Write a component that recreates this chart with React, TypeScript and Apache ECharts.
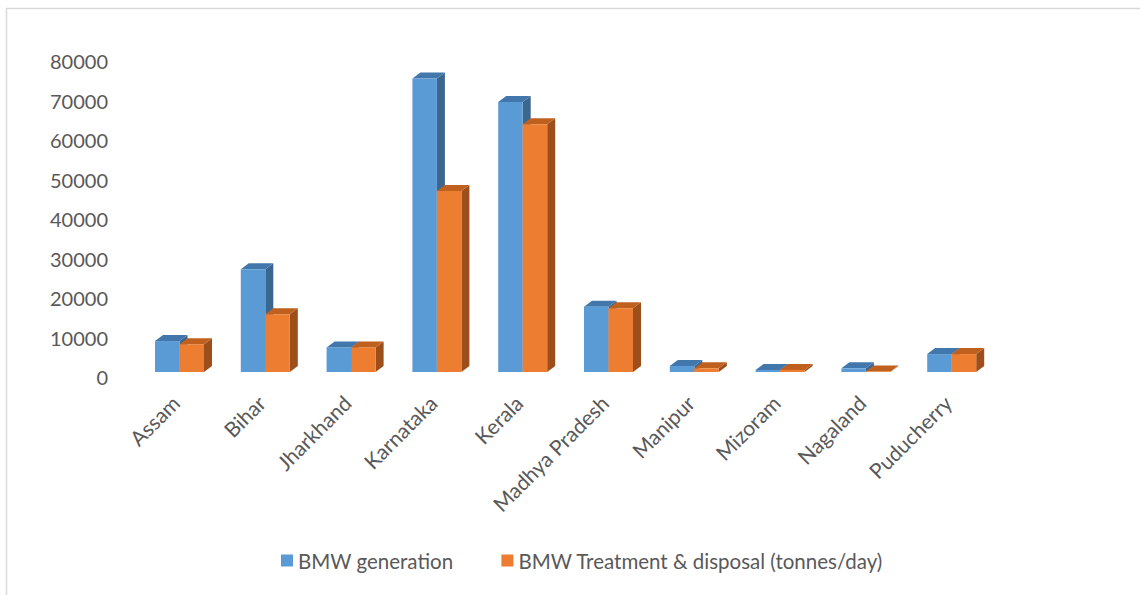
import React, { useEffect, useRef } from "react";
import * as echarts from "echarts";

const categories = [
  "Assam",
  "Bihar",
  "Jharkhand",
  "Karnataka",
  "Kerala",
  "Madhya Pradesh",
  "Manipur",
  "Mizoram",
  "Nagaland",
  "Puducherry",
];
const generation = [9100, 27300, 7500, 75600, 69600, 17800, 2800, 1800, 2200, 5800];
const treatment = [8300, 15900, 7500, 47100, 64000, 17400, 2200, 1800, 1400, 5800];
const seriesNames = ["BMW generation", "BMW Treatment & disposal (tonnes/day)"];
const yTicks = { min: 0, max: 80000, interval: 10000 };

const palette = [
  { front: "#5B9BD5", top: "#4277AC", side: "#3A6690" },
  { front: "#ED7D31", top: "#C0601F", side: "#9C4E1B" },
];

const FONT = "Lato, 'Liberation Sans', sans-serif";
const TEXT = "#595959";
const BAR_SHIFT = 8;

function makeRender(idx: number) {
  const c = palette[idx];
  return (params: any, api: any) => {
    const ci = api.value(0);
    const v = api.value(1);
    const pTop = api.coord([ci, v]);
    const p0 = api.coord([ci, 0]);
    const band = api.size([1, 0])[0];
    const faceW = band * 0.2856;
    const dx = 8;
    const dy = 6;
    const lift = 5;
    const cx = pTop[0] + BAR_SHIFT;
    const xl = cx - (2 * faceW + dx) / 2 + idx * faceW;
    const xr = xl + faceW;
    const yb = p0[1] - lift;
    const yt = Math.min(pTop[1], yb);
    return {
      type: "group",
      children: [
        {
          type: "polygon",
          shape: { points: [[xr, yb], [xr + dx, yb - dy], [xr + dx, yt - dy], [xr, yt]] },
          style: { fill: c.side },
        },
        {
          type: "polygon",
          shape: { points: [[xl, yt], [xl + dx, yt - dy], [xr + dx, yt - dy], [xr, yt]] },
          style: { fill: c.top },
        },
        {
          type: "rect",
          shape: { x: xl, y: yt, width: faceW, height: Math.max(yb - yt, 0) },
          style: { fill: c.front },
        },
      ],
    };
  };
}

export default function App() {
  const ref = useRef<HTMLDivElement>(null);
  useEffect(() => {
    if (!ref.current) return;
    const chart = echarts.init(ref.current, undefined, { renderer: "svg" });
    chart.setOption({
      animation: false,
      backgroundColor: "#ffffff",
      graphic: [
        {
          type: "rect",
          shape: { x: 6.5, y: 8.5, width: 1400, height: 800 },
          style: { fill: "none", stroke: "#d9d9d9", lineWidth: 1.5 },
          silent: true,
        },
      ],
      grid: { left: 132.6, right: 149.4, top: 61, bottom: 218, containLabel: false },
      legend: {
        left: 276,
        top: 545,
        icon: "rect",
        itemWidth: 12,
        itemHeight: 12,
        itemGap: 48,
        itemTextGap: 5,
        textStyle: { fontSize: 20.5, color: TEXT, fontFamily: FONT },
        data: seriesNames,
      },
      xAxis: {
        type: "category",
        data: categories,
        axisLine: { show: false },
        axisTick: { show: false },
        axisLabel: {
          rotate: 45,
          margin: 22,
          interval: 0,
          fontSize: 21,
          color: TEXT,
          fontFamily: FONT,
        },
      },
      yAxis: {
        type: "value",
        min: yTicks.min,
        max: yTicks.max,
        interval: yTicks.interval,
        splitLine: { show: false },
        axisLine: { show: false },
        axisTick: { show: false },
        axisLabel: {
          margin: 24.6,
          fontSize: 20,
          color: TEXT,
          fontFamily: FONT,
          formatter: (v: number) => String(v),
        },
      },
      series: [
        {
          name: seriesNames[0],
          type: "custom",
          renderItem: makeRender(0),
          itemStyle: { color: palette[0].front },
          encode: { x: 0, y: 1 },
          data: generation.map((v, i) => [i, v]),
        },
        {
          name: seriesNames[1],
          type: "custom",
          renderItem: makeRender(1),
          itemStyle: { color: palette[1].front },
          encode: { x: 0, y: 1 },
          data: treatment.map((v, i) => [i, v]),
        },
      ],
    });
    return () => chart.dispose();
  }, []);
  return (
    <div
      ref={ref}
      style={{ position: "fixed", left: 0, top: 0, width: 1140, height: 595 }}
    />
  );
}
